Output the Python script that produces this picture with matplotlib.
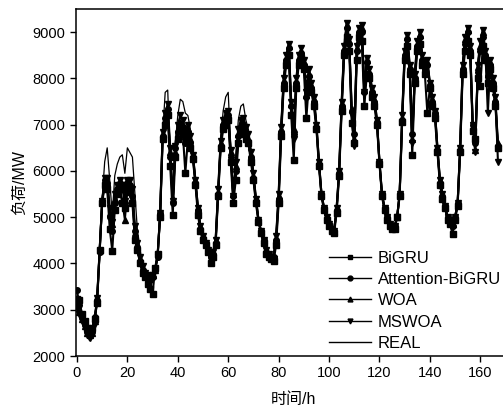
import matplotlib
matplotlib.use('Agg')
import matplotlib.pyplot as plt

plt.rcParams['font.family'] = ['Liberation Sans', 'Noto Sans CJK SC', 'DejaVu Sans']

hours = list(range(168))

real = [3000, 2900, 2750, 2600, 2450, 2330, 2400, 2700, 3300, 4300, 5400, 6200, 6500, 5800, 5050, 5900,
        6150, 6300, 6350, 5950, 6500, 6400, 6300, 5500, 4700, 4300, 4000, 3850, 3750, 3700, 3750, 3850,
        4150, 5100, 6800, 7700, 7750, 6300, 5300, 6600, 7200, 7550, 7500, 7250, 7200, 6900, 6400, 5800,
        5200, 4800, 4600, 4450, 4300, 4150, 4250, 4500, 5600, 6700, 7300, 7600, 7700, 6500, 5400, 6300,
        7100, 7400, 7450, 7100, 6900, 6500, 6000, 5400, 4950, 4700, 4500, 4300, 4200, 4100, 4100, 4600,
        5500, 7000, 8000, 8500, 8750, 7500, 6600, 8000, 8500, 8650, 8400, 7700, 8200, 7900, 7600, 7000,
        6200, 5500, 5200, 5000, 4850, 4750, 4700, 5200, 6000, 7500, 8700, 9200, 8800, 7300, 6700, 8700,
        9100, 9150, 7700, 8500, 8200, 7800, 7600, 7100, 6200, 5500, 5200, 5000, 4850, 4800, 4800, 5000,
        5500, 7200, 8600, 8900, 8300, 6700, 8100, 8800, 9000, 8500, 8300, 8400, 7900, 7600, 7300, 6500,
        5800, 5500, 5250, 5000, 4900, 4850, 5000, 5300, 6500, 8300, 8900, 9100, 8700, 7000, 6500, 8300,
        8800, 9050, 8600, 8200, 8400, 8000, 7600, 6600]

bigru = [3230, 3200, 2900, 2750, 2600, 2550, 2600, 2800, 3150, 4300, 5300, 5700, 5600, 4750, 4280, 5150,
         5500, 5650, 5300, 5200, 5600, 5550, 5300, 4500, 4300, 4000, 3800, 3700, 3550, 3450, 3340, 3900,
         4200, 5000, 6700, 7000, 7200, 6100, 5050, 6300, 6700, 6900, 6800, 5960, 6700, 6500, 6250, 5700,
         5050, 4700, 4500, 4400, 4250, 4020, 4150, 4400, 5450, 6500, 6900, 7000, 7100, 6200, 5300, 5800,
         6600, 6800, 6850, 6700, 6600, 6200, 5800, 5300, 4900, 4650, 4450, 4200, 4150, 4100, 4050, 4400,
         5300, 6750, 7800, 8300, 8500, 7200, 6240, 7800, 8300, 8450, 8200, 7140, 7900, 7700, 7400, 6900,
         6100, 5450, 5150, 4950, 4800, 4700, 4650, 5100, 5900, 7300, 8500, 8900, 8600, 7040, 6600, 8400,
         8900, 8800, 7400, 8100, 8000, 7600, 7400, 7000, 6150, 5450, 5150, 4950, 4800, 4740, 4750, 5000,
         5450, 7050, 8400, 8700, 8100, 6350, 7900, 8600, 8750, 8300, 8100, 7250, 7800, 7400, 7150, 6400,
         5700, 5400, 5200, 4950, 4850, 4630, 4950, 5250, 6400, 8100, 8600, 8800, 8500, 6870, 6700, 8000,
         7830, 8700, 8400, 7900, 8200, 7800, 7400, 6500]

att_bigru = [3420, 3100, 2850, 2700, 2550, 2500, 2550, 2850, 3200, 4250, 5350, 5800, 5700, 5000, 4700, 5300,
             5600, 5750, 5650, 5300, 5750, 5700, 5450, 4700, 4350, 4050, 3850, 3750, 3700, 3650, 3700, 3850,
             4150, 5100, 6750, 7150, 7350, 6300, 5300, 6500, 6850, 7000, 6950, 6600, 6850, 6600, 6300, 5750,
             5150, 4750, 4550, 4400, 4300, 4150, 4200, 4450, 5500, 6550, 7000, 7100, 7200, 6300, 5450, 6000,
             6750, 6950, 7000, 6800, 6650, 6300, 5850, 5350, 4950, 4700, 4500, 4250, 4200, 4150, 4150, 4500,
             5400, 6850, 7900, 8400, 8650, 7400, 6800, 7900, 8400, 8550, 8300, 7600, 8050, 7800, 7500, 6950,
             6150, 5500, 5200, 4950, 4800, 4750, 4700, 5150, 5950, 7400, 8600, 9100, 8750, 7300, 6800, 8600,
             9000, 9000, 7700, 8350, 8100, 7700, 7500, 7050, 6200, 5500, 5200, 5000, 4850, 4800, 4800, 5000,
             5500, 7100, 8500, 8850, 8200, 6800, 8000, 8700, 8900, 8400, 8200, 8300, 7850, 7500, 7250, 6450,
             5750, 5450, 5250, 5000, 4900, 4800, 5000, 5300, 6450, 8200, 8750, 9000, 8600, 7000, 6600, 8150,
             8600, 8900, 8500, 8050, 8300, 7900, 7500, 6550]

woa = [3100, 2950, 2800, 2650, 2500, 2450, 2500, 2750, 3250, 4300, 5350, 5750, 5800, 5100, 4850, 5400,
       5550, 5600, 5350, 4950, 5600, 5650, 5400, 4650, 4350, 4100, 3900, 3800, 3750, 3700, 3750, 3850,
       4200, 5050, 6800, 7100, 7300, 6400, 5400, 6400, 6900, 7050, 7000, 6750, 6900, 6700, 6350, 5800,
       5200, 4800, 4550, 4450, 4300, 4200, 4250, 4500, 5550, 6600, 7050, 7150, 7200, 6400, 5500, 6100,
       6800, 7000, 7050, 6850, 6700, 6350, 5900, 5400, 4950, 4700, 4500, 4300, 4200, 4150, 4150, 4550,
       5450, 6900, 7950, 8450, 8700, 7450, 6900, 7950, 8450, 8600, 8350, 7650, 8100, 7850, 7550, 7000,
       6200, 5500, 5200, 5000, 4850, 4750, 4700, 5200, 6000, 7450, 8650, 9150, 8800, 7350, 6700, 8650,
       9050, 9100, 7750, 8400, 8150, 7750, 7550, 7100, 6200, 5500, 5200, 5000, 4850, 4800, 4800, 5000,
       5500, 7150, 8550, 8900, 8250, 6700, 8050, 8750, 8950, 8450, 8250, 8350, 7900, 7550, 7300, 6500,
       5800, 5500, 5250, 5000, 4900, 4850, 5000, 5300, 6500, 8250, 8850, 9050, 8650, 6950, 6450, 8250,
       8700, 9000, 8550, 8100, 8350, 7950, 7550, 6600]

mswoa = [3050, 2900, 2750, 2600, 2450, 2400, 2450, 2700, 3250, 4250, 5350, 5850, 5850, 5200, 4900, 5500,
         5700, 5800, 5700, 5350, 5800, 5800, 5600, 4800, 4450, 4150, 3950, 3800, 3750, 3700, 3750, 3850,
         4150, 5100, 6850, 7250, 7450, 6500, 5350, 6550, 7000, 7200, 7100, 6850, 7000, 6750, 6350, 5800,
         5200, 4800, 4600, 4450, 4300, 4150, 4250, 4500, 5600, 6650, 7100, 7250, 7300, 6450, 5450, 6200,
         6900, 7100, 7150, 6950, 6800, 6400, 5950, 5400, 4950, 4700, 4500, 4300, 4200, 4100, 4100, 4600,
         5500, 6950, 8000, 8500, 8750, 7500, 6700, 8000, 8500, 8650, 8400, 7700, 8200, 7900, 7600, 7000,
         6200, 5500, 5200, 5000, 4850, 4750, 4700, 5200, 6000, 7500, 8700, 9200, 8850, 7200, 6530, 8700,
         9100, 9150, 7700, 8450, 8200, 7800, 7600, 7100, 6200, 5500, 5200, 5000, 4850, 4800, 4800, 5000,
         5500, 7200, 8600, 8950, 8300, 6600, 8100, 8800, 9000, 8500, 8300, 8400, 7900, 7600, 7300, 6500,
         5800, 5500, 5250, 5000, 4900, 4850, 5000, 5300, 6500, 8300, 8900, 9100, 8700, 7000, 6400, 8300,
         8800, 9050, 8600, 7250, 8400, 8000, 7600, 6200]

fig = plt.figure(figsize=(5.03, 4.13), dpi=100)
ax = fig.add_axes([0.151, 0.138, 0.863, 0.840])

# model predictions: thick black lines with markers, REAL as a thin line
ms = 4
ax.plot(hours, bigru, color='black', lw=1.5, marker='s', ms=ms, label='BiGRU')
ax.plot(hours, att_bigru, color='black', lw=1.5, marker='o', ms=ms, label='Attention-BiGRU')
ax.plot(hours, woa, color='black', lw=1.5, marker='^', ms=ms, label='WOA')
ax.plot(hours, mswoa, color='black', lw=1.5, marker='v', ms=ms, label='MSWOA')
ax.plot(hours, real, color='black', lw=0.9, label='REAL')

ax.set_xlim(-0.4, 171.8)
ax.set_ylim(2000, 9500)
ax.set_xticks([0, 20, 40, 60, 80, 100, 120, 140, 160])
ax.set_yticks([2000, 3000, 4000, 5000, 6000, 7000, 8000, 9000])
ax.tick_params(direction='out', length=4, width=1, labelsize=10.5)
for s in ax.spines.values():
    s.set_linewidth(1.1)

ax.set_xlabel('时间/h', fontsize=11.5, labelpad=8)
ax.set_ylabel('负荷/MW', fontsize=11.5, labelpad=4)

leg = fig.legend(loc='lower left', bbox_to_anchor=(0.638, 0.13), frameon=False,
                 fontsize=12, handlelength=2.5, handletextpad=0.4, labelspacing=0.38,
                 borderpad=0, numpoints=1)
for h in leg.legend_handles:
    h.set_markersize(3.5)
    h.set_linewidth(1.0)

fig.savefig('out.png', dpi=100)
